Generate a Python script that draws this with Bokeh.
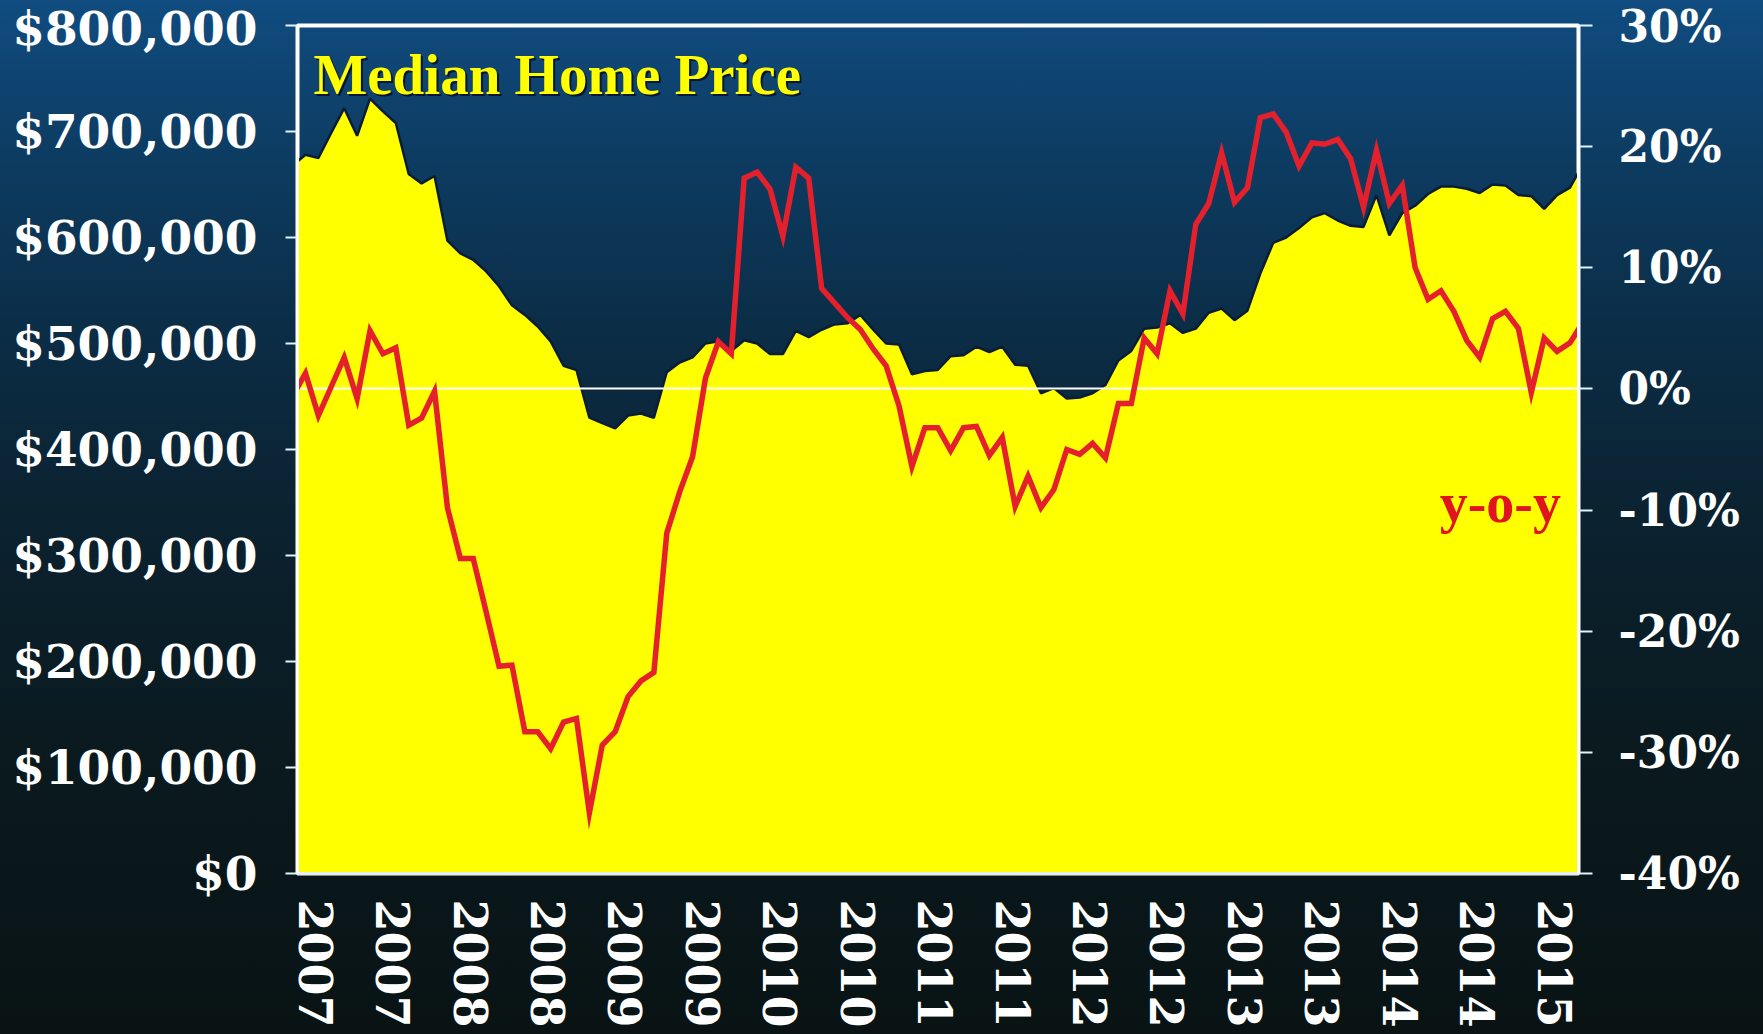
from bokeh.plotting import figure
from bokeh.models import Range1d, LinearAxis, FixedTicker, NumeralTickFormatter, PrintfTickFormatter, Label
from bokeh.embed import file_html
from bokeh.resources import INLINE

# ---------------- data (monthly) ----------------
median_price = [
    668000, 678000, 675000, 699000, 722000, 696000, 731000, 719000, 708000, 660000,
    651000, 658000, 597000, 585000, 579000, 568000, 554000, 536000, 527000, 516000,
    502000, 479000, 475000, 430000, 425000, 420000, 432000, 434000, 430000, 473000,
    482000, 487000, 500000, 502000, 493000, 503000, 500000, 490000, 490000, 512000,
    506000, 513000, 518000, 519000, 527000, 513000, 500000, 499000, 471000, 474000,
    475000, 488000, 489000, 497000, 492000, 497000, 480000, 479000, 453000, 458000,
    448000, 449000, 453000, 461000, 484000, 493000, 514000, 515000, 519000, 510000,
    514000, 529000, 533000, 522000, 531000, 566000, 595000, 600000, 609000, 619000,
    623000, 616000, 611000, 610000, 640000, 602000, 623000, 630000, 641000, 648000,
    648000, 646000, 642000, 650000, 649000, 640000, 639000, 627000, 640000, 647000,
    669000,
]

yoy_change = [
    -0.6, 1.3, -2.2, 0.2, 2.6, -0.8, 4.8, 2.9, 3.4, -3.0,
    -2.4, -0.2, -9.8, -14.0, -14.0, -18.4, -22.9, -22.8, -28.3, -28.3,
    -29.7, -27.5, -27.2, -35.0, -29.4, -28.3, -25.4, -24.1, -23.4, -11.9,
    -8.5, -5.6, 0.9, 3.9, 2.9, 17.4, 17.9, 16.5, 12.6, 18.3,
    17.4, 8.3, 7.1, 5.9, 4.9, 3.3, 1.9, -1.4, -6.4, -3.2,
    -3.2, -5.1, -3.2, -3.1, -5.5, -4.0, -9.7, -7.2, -9.8, -8.3,
    -5.0, -5.4, -4.5, -5.7, -1.2, -1.2, 4.2, 2.9, 8.1, 6.2,
    13.6, 15.3, 19.5, 15.4, 16.6, 22.4, 22.7, 21.2, 18.4, 20.3,
    20.2, 20.6, 19.0, 15.0, 19.7, 15.3, 16.8, 10.0, 7.4, 8.1,
    6.4, 4.0, 2.6, 5.8, 6.4, 5.0, -0.3, 4.2, 3.1, 3.8,
    5.5,
]

year_labels = ["2007", "2007", "2008", "2008", "2009", "2009", "2010", "2010",
               "2011", "2011", "2012", "2012", "2013", "2013", "2014", "2014", "2015"]

price_ticks = [0, 100000, 200000, 300000, 400000, 500000, 600000, 700000, 800000]
pct_ticks = [-40, -30, -20, -10, 0, 10, 20, 30]
zero_level = [0]

months = list(range(len(median_price)))
label_ticks = [1.8 + 6 * i for i in range(len(year_labels))]

# ---------------- figure ----------------
W, H = 1763, 1034
FL, FR, FT, FB = 297, 1578, 25, 873

p = figure(width=W, height=H, output_backend="svg", toolbar_location=None, title=None,
           x_range=Range1d(0.38, 99.66), y_range=Range1d(0, 800000),
           min_border_left=FL, min_border_right=W - FR, min_border_top=FT, min_border_bottom=H - FB,
           background_fill_color=None, border_fill_color=None,
           outline_line_color="white", outline_line_width=4)
p.styles = {"background": "linear-gradient(to bottom, #104c80 0%, #0d3c62 15%, #0b2d46 32%, #0b2230 50%, #0a1a1f 72%, #091314 100%)"}
p.grid.visible = False

p.extra_y_ranges = {"pct": Range1d(-40, 30)}

SERIF = "DejaVu Serif"

# left axis
yax = p.yaxis[0]
yax.ticker = FixedTicker(ticks=price_ticks)
yax.formatter = NumeralTickFormatter(format="$0,0")
yax.major_label_text_font = SERIF
yax.major_label_text_font_style = "bold"
yax.major_label_text_font_size = "47px"
yax.major_label_text_color = "white"
yax.major_label_standoff = 28
yax.major_tick_out = 12
yax.major_tick_in = 0
yax.minor_tick_out = 0
yax.minor_tick_in = 0
yax.major_tick_line_color = "#dff4ff"
yax.major_tick_line_width = 2
yax.axis_line_color = "white"
yax.axis_line_width = 3

# right axis
rax = LinearAxis(y_range_name="pct")
rax.ticker = FixedTicker(ticks=pct_ticks)
rax.formatter = PrintfTickFormatter(format="%d%%")
rax.major_label_text_font = SERIF
rax.major_label_text_font_style = "bold"
rax.major_label_text_font_size = "44px"
rax.major_label_text_color = "white"
rax.major_label_standoff = 26
rax.major_tick_out = 14
rax.major_tick_in = 0
rax.minor_tick_out = 0
rax.minor_tick_in = 0
rax.major_tick_line_color = "#dff4ff"
rax.major_tick_line_width = 2
rax.axis_line_color = "white"
rax.axis_line_width = 3
p.add_layout(rax, "right")

# bottom axis
xax = p.xaxis[0]
xax.ticker = FixedTicker(ticks=label_ticks)
xax.major_label_overrides = dict(zip(label_ticks, year_labels))
xax.major_label_orientation = "vertical"
xax.major_label_text_font = SERIF
xax.major_label_text_font_style = "bold"
xax.major_label_text_font_size = "46px"
xax.major_label_text_color = "white"
xax.major_label_standoff = 26
xax.major_tick_out = 0
xax.major_tick_in = 0
xax.minor_tick_out = 0
xax.minor_tick_in = 0
xax.axis_line_color = "#e8eef0"
xax.axis_line_width = 3

# ---------------- glyphs ----------------
p.varea(x=months, y1=0, y2=median_price, fill_color="#ffff00")
p.line(months, median_price, line_color="#0b1d36", line_width=2.5)
p.hspan(y=zero_level, y_range_name="pct", line_color="white", line_width=2)
p.line(months, yoy_change, y_range_name="pct", line_color="#e3202c", line_width=5.5,
       line_join="miter")

# ---------------- text ----------------
p.add_layout(Label(x=1.62, y=754000, text="Median Home Price", text_font="Liberation Serif",
                   text_font_style="bold", text_font_size="57px", text_color="#0a1630",
                   text_baseline="alphabetic", x_offset=2, y_offset=-2))
p.add_layout(Label(x=1.62, y=754000, text="Median Home Price", text_font="Liberation Serif",
                   text_font_style="bold", text_font_size="57px", text_color="#ffff00",
                   text_baseline="alphabetic"))
p.add_layout(Label(x=98.3, y=350000, text="y-o-y", text_font="Liberation Serif",
                   text_font_style="bold", text_font_size="56px", text_color="#e0141e",
                   text_align="right", text_baseline="alphabetic"))

open("out.html", "w").write(file_html(p, INLINE))
